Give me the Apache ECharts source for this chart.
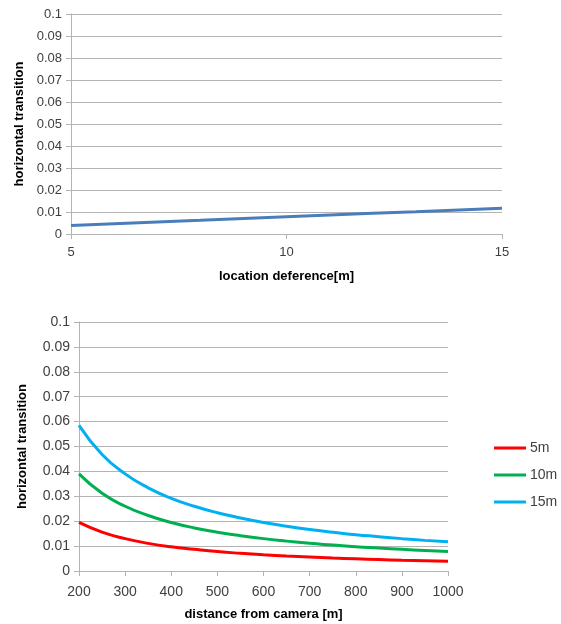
<!DOCTYPE html>
<html>
<head>
<meta charset="utf-8">
<script src="https://cdn.jsdelivr.net/npm/echarts@6/dist/echarts.min.js"></script>
<style>
  html, body { margin: 0; padding: 0; background: #fff; }
  #container { width: 561px; height: 624px; }
</style>
</head>
<body>
<div id="container"></div>
<script>
// top chart: horizontal transition vs location deference
const locX = [5, 6, 7, 8, 9, 10, 11, 12, 13, 14, 15];
const locY = [0.0039, 0.0047, 0.0055, 0.0062, 0.0070, 0.0078, 0.0086, 0.0094, 0.0101, 0.0109, 0.0117];

// bottom chart: horizontal transition vs distance from camera
const distX = [200, 250, 300, 350, 400, 450, 500, 550, 600, 650, 700, 750, 800, 850, 900, 950, 1000];
const y5m  = [0.0195, 0.0156, 0.0130, 0.0111, 0.0097, 0.0087, 0.0078, 0.0071, 0.0065, 0.0060, 0.0056, 0.0052, 0.0049, 0.0046, 0.0043, 0.0041, 0.0039];
const y10m = [0.0390, 0.0312, 0.0260, 0.0223, 0.0195, 0.0173, 0.0156, 0.0142, 0.0130, 0.0120, 0.0111, 0.0104, 0.0097, 0.0092, 0.0087, 0.0082, 0.0078];
const y15m = [0.0585, 0.0468, 0.0390, 0.0334, 0.0292, 0.0260, 0.0234, 0.0213, 0.0195, 0.0180, 0.0167, 0.0156, 0.0146, 0.0138, 0.0130, 0.0123, 0.0117];

const seriesNames = ['5m', '10m', '15m'];
const seriesColors = ['#ff0000', '#00b050', '#00b0f0'];

let dom = document.getElementById('container');
let myChart = echarts.init(dom);

const gridColor = '#b3b3b3';
const labelColor = '#404040';
const font = 'Liberation Sans';

function yAxisCfg(gridIndex, fontSize, nameGap) {
    return {
        type: 'value',
        gridIndex: gridIndex,
        min: 0,
        max: 0.1,
        interval: 0.01,
        name: 'horizontal transition',
        nameLocation: 'middle',
        nameGap: nameGap,
        nameTextStyle: { fontFamily: font, fontWeight: 'bold', fontSize: 13, color: '#000' },
        axisLine: { show: true, lineStyle: { color: gridColor } },
        axisTick: { show: true, length: 5, lineStyle: { color: gridColor } },
        axisLabel: {
            fontFamily: font, fontSize: fontSize, color: labelColor, margin: 9,
            formatter: function (v) { return String(Math.round(v * 100) / 100); }
        },
        splitLine: { show: true, lineStyle: { color: gridColor } }
    };
}

let option = {
    animation: false,
    backgroundColor: '#fff',
    grid: [
        { left: 71, right: 59, top: 14, bottom: 390 },
        { left: 79, right: 113, top: 322, bottom: 53 }
    ],
    legend: {
        data: seriesNames,
        orient: 'vertical',
        left: 489,
        top: 436,
        icon: 'rect',
        itemWidth: 32,
        itemHeight: 3,
        itemGap: 13,
        textStyle: { fontFamily: font, fontSize: 14, color: labelColor, padding: [0, 0, 0, -1] }
    },
    xAxis: [
        {
            type: 'value',
            gridIndex: 0,
            min: 5,
            max: 15,
            interval: 5,
            name: 'location deference[m]',
            nameLocation: 'middle',
            nameGap: 36,
            nameTextStyle: { fontFamily: font, fontWeight: 'bold', fontSize: 13, color: '#000' },
            axisLine: { lineStyle: { color: gridColor } },
            axisTick: { show: true, length: 5, lineStyle: { color: gridColor } },
            axisLabel: { fontFamily: font, fontSize: 13, color: labelColor, margin: 12 },
            splitLine: { show: false }
        },
        {
            type: 'value',
            gridIndex: 1,
            min: 200,
            max: 1000,
            interval: 100,
            name: 'distance from camera [m]',
            nameLocation: 'middle',
            nameGap: 37,
            nameTextStyle: { fontFamily: font, fontWeight: 'bold', fontSize: 13, color: '#000' },
            axisLine: { lineStyle: { color: gridColor } },
            axisTick: { show: true, length: 5, lineStyle: { color: gridColor } },
            axisLabel: {
                fontFamily: font, fontSize: 14, color: labelColor, margin: 14,
                formatter: function (v) { return String(v); }
            },
            splitLine: { show: false }
        }
    ],
    yAxis: [
        yAxisCfg(0, 13, 43),
        yAxisCfg(1, 14, 50)
    ],
    series: [
        {
            type: 'line',
            xAxisIndex: 0,
            yAxisIndex: 0,
            showSymbol: false,
            lineStyle: { color: '#4a7ebb', width: 3 },
            data: locX.map((x, i) => [x, locY[i]])
        }
    ].concat([y5m, y10m, y15m].map(function (ys, k) {
        return {
            type: 'line',
            name: seriesNames[k],
            xAxisIndex: 1,
            yAxisIndex: 1,
            smooth: true,
            showSymbol: false,
            color: seriesColors[k],
            lineStyle: { color: seriesColors[k], width: 3 },
            data: distX.map((x, i) => [x, ys[i]])
        };
    }))
};
myChart.setOption(option);
</script>
</body>
</html>
